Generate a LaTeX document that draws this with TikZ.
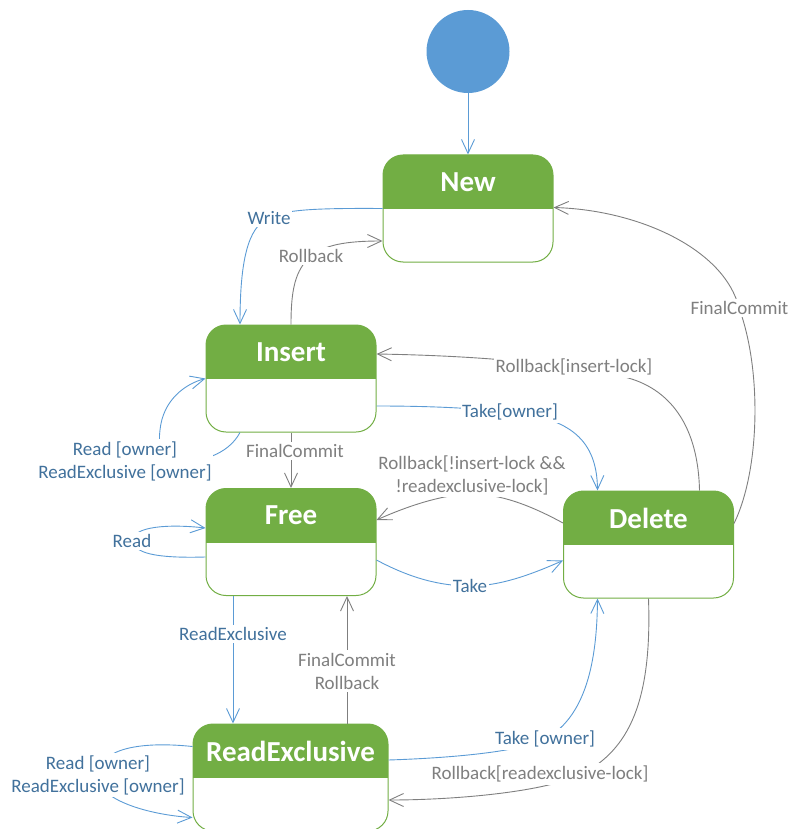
\documentclass[tikz,border=0pt]{standalone}
\usepackage{fontspec}
\setmainfont{Carlito}
\usetikzlibrary{arrows.meta,calc}
\definecolor{stategreen}{HTML}{72AE44}
\definecolor{initblue}{HTML}{5B9BD5}
\definecolor{edgeblue}{HTML}{5B9BD5}
\definecolor{textblue}{HTML}{41719C}
\definecolor{edgegray}{HTML}{7F7F7F}
\definecolor{textgray}{HTML}{7F7F7F}

\begin{document}
\begin{tikzpicture}[x=1pt,y=-1pt,
  state/.style={draw=stategreen, line width=1pt, fill=white,
    rounded corners=20pt, minimum width=170pt, minimum height=107pt,
    inner sep=0pt,
    path picture={
      \fill[stategreen, sharp corners] ([yshift=2pt]path picture bounding box.north west)
        rectangle ([yshift=-54pt]path picture bounding box.north east);
      \node[text=white, font=\fontsize{29}{34}\selectfont\bfseries]
        at ([yshift=-27pt]path picture bounding box.north) {#1};}},
  initstate/.style={circle, fill=initblue, minimum size=83pt, inner sep=0pt},
  tip/.style={-{Straight Barb[length=14pt,width=13pt]}},
  blueedge/.style={draw=edgeblue, line width=0.9pt, tip},
  grayedge/.style={draw=edgegray, line width=0.9pt, tip},
  lbl/.style={fill=white, inner xsep=1.5pt, inner ysep=2.5pt, align=center,
    font=\fontsize{19}{23}\selectfont},
  bluelbl/.style={lbl, text=textblue},
  graylbl/.style={lbl, text=textgray}]

\useasboundingbox (0,0) rectangle (790,829);

% states
\node[initstate] (init) at (468,51.5) {};
\node[state=New] (new) at (468,208.5) {};
\node[state=Insert] (insert) at (291,378.5) {};
\node[state=Free] (free) at (291,542) {};
\node[state=Delete] (delete) at (648.5,544.5) {};
\node[state=ReadExclusive, minimum width=195pt] (rex) at (290.5,777.5) {};

% initial transition
\draw[blueedge] (init) -- (new);

% New -> Insert
\draw[blueedge] (new.west) .. controls (310,208) and (285,210) .. (268,218)
  .. controls (248,228) and (240,260) .. ($(insert.north)+(-51,0)$);
\node[bluelbl] (lwrite) at (269,218) {Write};

% Insert -> New
\draw[grayedge] (insert.north) .. controls (291,290) and (295,270) .. (311,256)
  .. controls (325,245) and (345,241) .. ($(new.west)+(0,32.5)$);
\node[graylbl] (lrb1) at (311,256) {Rollback};

% Insert self loop
\draw[blueedge] ($(insert.south)+(-51,0)$) .. controls (228,455) and (200,462) .. (180,462)
  .. controls (160,462) and (158,445) .. (160,430)
  .. controls (163,400) and (185,384) .. (insert.west);
\node[bluelbl] (lrdo1) at (125,461) {Read [owner]\\ReadExclusive [owner]};

% Insert -> Free
\draw[grayedge] (insert.south) -- (free.north);
\node[graylbl] (lfc1) at (295,451) {FinalCommit};

% Delete -> Insert
\draw[grayedge] ($(delete.north)+(51,0)$) .. controls (698,420) and (665,385) .. (620,376)
  .. controls (580,367) and (500,356) .. ($(insert.east)+(0,-24.5)$);
\node[graylbl] (lrbil) at (574,367) {Rollback[insert-lock]};

% Insert -> Delete
\draw[blueedge] ($(insert.east)+(0,27.5)$) .. controls (430,406) and (470,408) .. (510,412)
  .. controls (570,418) and (597,440) .. ($(delete.north)+(-51,0)$);
\node[bluelbl] (ltko) at (510,412) {Take[owner]};

% Delete -> Free
\draw[grayedge] ($(delete.west)+(0,-21.5)$) .. controls (530,505) and (500,494) .. (472,494)
  .. controls (445,494) and (410,505) .. ($(free.east)+(0,-22)$);
\node[graylbl] (lrbne) at (472,475) {Rollback[!insert-lock \&\&\\!readexclusive-lock]};

% Free self loop
\draw[blueedge] ($(free.west)+(0,15)$) .. controls (168,558) and (134,556) .. (133,541)
  .. controls (132,526) and (170,524) .. ($(free.west)+(0,-14)$);
\node[bluelbl] (lread) at (132,541) {Read};

% Free -> Delete
\draw[blueedge] ($(free.east)+(0,18)$) .. controls (410,578) and (440,586) .. (470,586)
  .. controls (500,586) and (530,575) .. ($(delete.west)+(0,16)$);
\node[bluelbl] (ltake) at (470,586) {Take};

% Free -> ReadExclusive
\draw[blueedge] ($(free.south)+(-58,0)$) -- ($(rex.north)+(-57.5,0)$);
\node[bluelbl] (lrex) at (233,634) {ReadExclusive};

% ReadExclusive -> Free
\draw[grayedge] ($(rex.north)+(56.5,0)$) -- ($(free.south)+(56,0)$);
\node[graylbl] (lfcrb) at (347,671) {FinalCommit\\Rollback};

% ReadExclusive self loop
\draw[blueedge] ($(rex.west)+(0,-31)$) .. controls (150,742) and (100,745) .. (98,775)
  .. controls (96,800) and (150,815) .. ($(rex.west)+(0,40)$);
\node[bluelbl] (lrdo2) at (98,775) {Read [owner]\\ReadExclusive [owner]};

% ReadExclusive -> Delete
\draw[blueedge] ($(rex.east)+(0,-17.5)$) .. controls (450,758) and (520,752) .. (545,739)
  .. controls (590,715) and (597,650) .. ($(delete.south)+(-51,0)$);
\node[bluelbl] (ltko2) at (545,739) {Take [owner]};

% Delete -> ReadExclusive
\draw[grayedge] (delete.south) .. controls (652,700) and (630,750) .. (580,775)
  .. controls (540,793) and (450,800) .. ($(rex.east)+(0,22.5)$);
\node[graylbl] (lrbrl) at (540,774) {Rollback[readexclusive-lock]};

% Delete -> New
\draw[grayedge] ($(delete.east)+(0,-21)$) .. controls (760,470) and (762,370) .. (739,308)
  .. controls (725,250) and (640,210) .. ($(new.east)+(0,-1)$);
\node[graylbl] (lfc2) at (739.5,308) {FinalCommit};

\end{tikzpicture}
\end{document}
